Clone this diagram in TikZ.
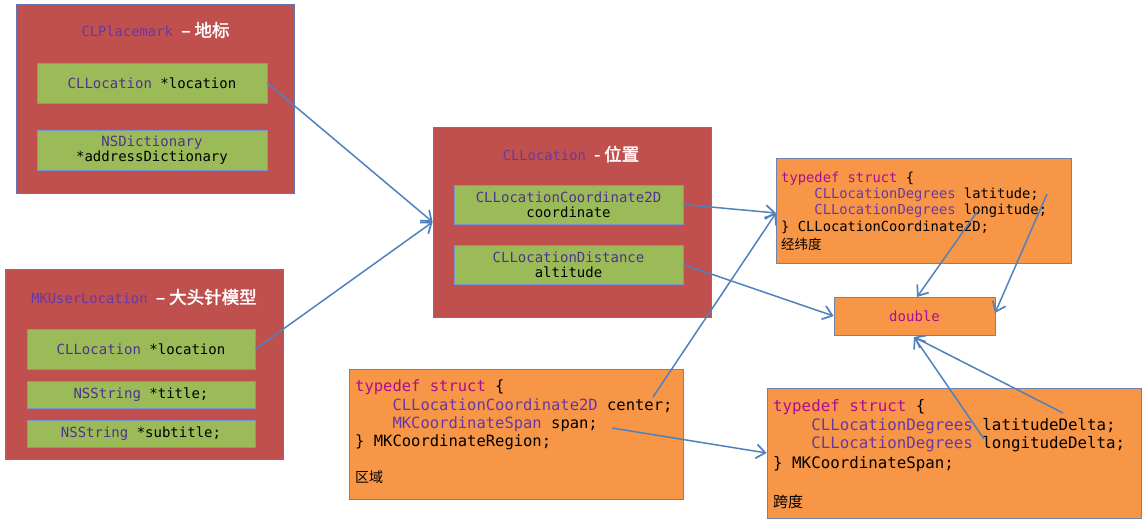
\documentclass[tikz,border=0pt]{standalone}
\usepackage{fontspec}
\setmonofont{DejaVu Sans Mono}
\newfontfamily\cjk[AutoFakeBold=2]{Noto Sans CJK SC}
\usetikzlibrary{arrows.meta}
\definecolor{redf}{RGB}{192,80,77}
\definecolor{redb}{RGB}{105,115,175}
\definecolor{greenf}{RGB}{155,187,89}
\definecolor{greenb}{RGB}{120,150,205}
\definecolor{orangef}{RGB}{247,150,70}
\definecolor{orangeb}{RGB}{115,130,170}
\definecolor{arrc}{RGB}{79,129,189}
\definecolor{purp}{RGB}{105,55,165}
\definecolor{purpg}{RGB}{80,50,140}
\definecolor{mag}{RGB}{170,13,145}
\newcommand\typ[1]{\textcolor{purp}{#1}}
\newcommand\typg[1]{\textcolor{purpg}{#1}}
\newcommand\kwd[1]{\textcolor{mag}{#1}}
\newcommand\ind{\hphantom{0000}}
\tikzset{
  outer/.style={draw=redb, fill=redf, line width=0.8pt},
  grn/.style={draw=greenb, fill=greenf, line width=0.8pt, align=center, inner sep=0pt,
    font=\ttfamily\fontsize{14}{15}\selectfont},
  org/.style={draw=orangeb, fill=orangef, line width=0.8pt},
  ttl/.style={inner sep=0pt, font=\ttfamily\fontsize{13.8}{16}\selectfont},
  codeA/.style={anchor=base west, inner sep=0pt, font=\ttfamily\fontsize{13.8}{16}\selectfont},
  codeB/.style={anchor=base west, inner sep=0pt, font=\ttfamily\fontsize{15.5}{18}\selectfont},
  codeC/.style={anchor=base west, inner sep=0pt, font=\ttfamily\fontsize{15.8}{19}\selectfont},
  arr/.style={draw=arrc, line width=1.5pt, -{Straight Barb[length=9pt,width=14pt,line width=1.7pt]}},
}
\newcommand\cjt[1]{{\color{white}\cjk\bfseries\fontsize{17.5}{20}\selectfont #1}}
\begin{document}
\begin{tikzpicture}[x=1pt,y=-1pt]
\useasboundingbox (0,0) rectangle (1147,528);
% CLPlacemark
\node[outer, minimum width=278pt, minimum height=189pt] (pm) at (155,98.5) {};
\node[ttl] (pmt) at (155.5,30) {\typ{CLPlacemark} \cjt{– 地标}};
\node[grn, minimum width=230pt, minimum height=40pt] (pm1) at (152,83) {\typg{CLLocation} *location};
\node[grn, minimum width=230pt, minimum height=40pt] (pm2) at (152,150) {\typg{NSDictionary}\\*addressDictionary};
% MKUserLocation
\node[outer, minimum width=278pt, minimum height=190pt] (mu) at (144,364) {};
\node[ttl] (mut) at (144,297) {\typ{MKUserLocation} \cjt{– 大头针模型}};
\node[grn, minimum width=228pt, minimum height=40pt] (mu1) at (141,349) {\typg{CLLocation} *location};
\node[grn, minimum width=228pt, minimum height=27pt] (mu2) at (141,394.5) {\typg{NSString} *title;};
\node[grn, minimum width=228pt, minimum height=27pt] (mu3) at (141,434) {\typg{NSString} *subtitle;};
% CLLocation
\node[outer, minimum width=278pt, minimum height=190pt] (cl) at (572,222) {};
\node[ttl] (clt) at (571,154) {\typ{CLLocation} \cjt{- 位置}};
\node[grn, minimum width=229pt, minimum height=39pt] (cl1) at (568.5,204.5) {\typg{CLLocationCoordinate2D}\\coordinate};
\node[grn, minimum width=229pt, minimum height=39pt] (cl2) at (568.5,264.5) {\typg{CLLocationDistance}\\altitude};
% CLLocationCoordinate2D struct
\node[org, minimum width=295pt, minimum height=105pt] (sc) at (923.5,210.5) {};
\node[codeA] (sc1) at (781,182) {\kwd{typedef struct} \{};
\node[codeA] (sc2) at (781,198) {\ind\typ{CLLocationDegrees} latitude;};
\node[codeA] (sc3) at (781,214) {\ind\typ{CLLocationDegrees} longitude;};
\node[codeA] (sc4) at (781,231) {\} CLLocationCoordinate2D;};
\node[codeA] (sc5) at (781,249) {\cjk\fontsize{13.5}{16}\selectfont 经纬度};
% double
\node[org, minimum width=161pt, minimum height=38pt, text=mag, font=\ttfamily\fontsize{14}{16}\selectfont] (db) at (914.5,316) {double};
% MKCoordinateRegion
\node[org, minimum width=334pt, minimum height=130pt] (rg) at (516,434) {};
\node[codeB] (rg1) at (355,391.5) {\kwd{typedef struct} \{};
\node[codeB] (rg2) at (355,410) {\ind\typ{CLLocationCoordinate2D} center;};
\node[codeB] (rg3) at (355,428.5) {\ind\typ{MKCoordinateSpan} span;};
\node[codeB] (rg4) at (355,446.5) {\} MKCoordinateRegion;};
\node[codeB] (rg5) at (355,482) {\cjk\fontsize{14}{16}\selectfont 区域};
% MKCoordinateSpan
\node[org, minimum width=374pt, minimum height=130pt] (sp) at (954,453) {};
\node[codeC] (sp1) at (773,411.5) {\kwd{typedef struct} \{};
\node[codeC] (sp2) at (773,430.5) {\ind\typ{CLLocationDegrees} latitudeDelta;};
\node[codeC] (sp3) at (773,448.5) {\ind\typ{CLLocationDegrees} longitudeDelta;};
\node[codeC] (sp4) at (773,468) {\} MKCoordinateSpan;};
\node[codeC] (sp5) at (773,507) {\cjk\fontsize{15}{17}\selectfont 跨度};
% connector ends
\coordinate (ctr) at (653,397);
\coordinate (spn) at (612,428);
\coordinate (lon) at (977,212);
\coordinate (lat) at (1047,194);
\coordinate (latd) at (1063,413);
\coordinate (lond) at (984,439);
\coordinate (scin) at (776,213);
\coordinate (dbr) at (995,313);
\coordinate (dbt) at (917,297);
\coordinate (dbb) at (914,337);
% connectors
\draw[arr] (pm1.east) -- (cl.west);
\draw[arr] (mu1.east) -- (cl.west);
\draw[arr] (cl1.east) -- (scin);
\draw[arr] (ctr) -- (scin);
\draw[arr] (cl2.east) -- (db.west);
\draw[arr] (spn) -- (sp.west);
\draw[arr] (lon) -- (dbt);
\draw[arr] (lat) -- (dbr);
\draw[arr] (latd) -- (dbb);
\draw[arr] (lond) -- (dbb);
\end{tikzpicture}
\end{document}
